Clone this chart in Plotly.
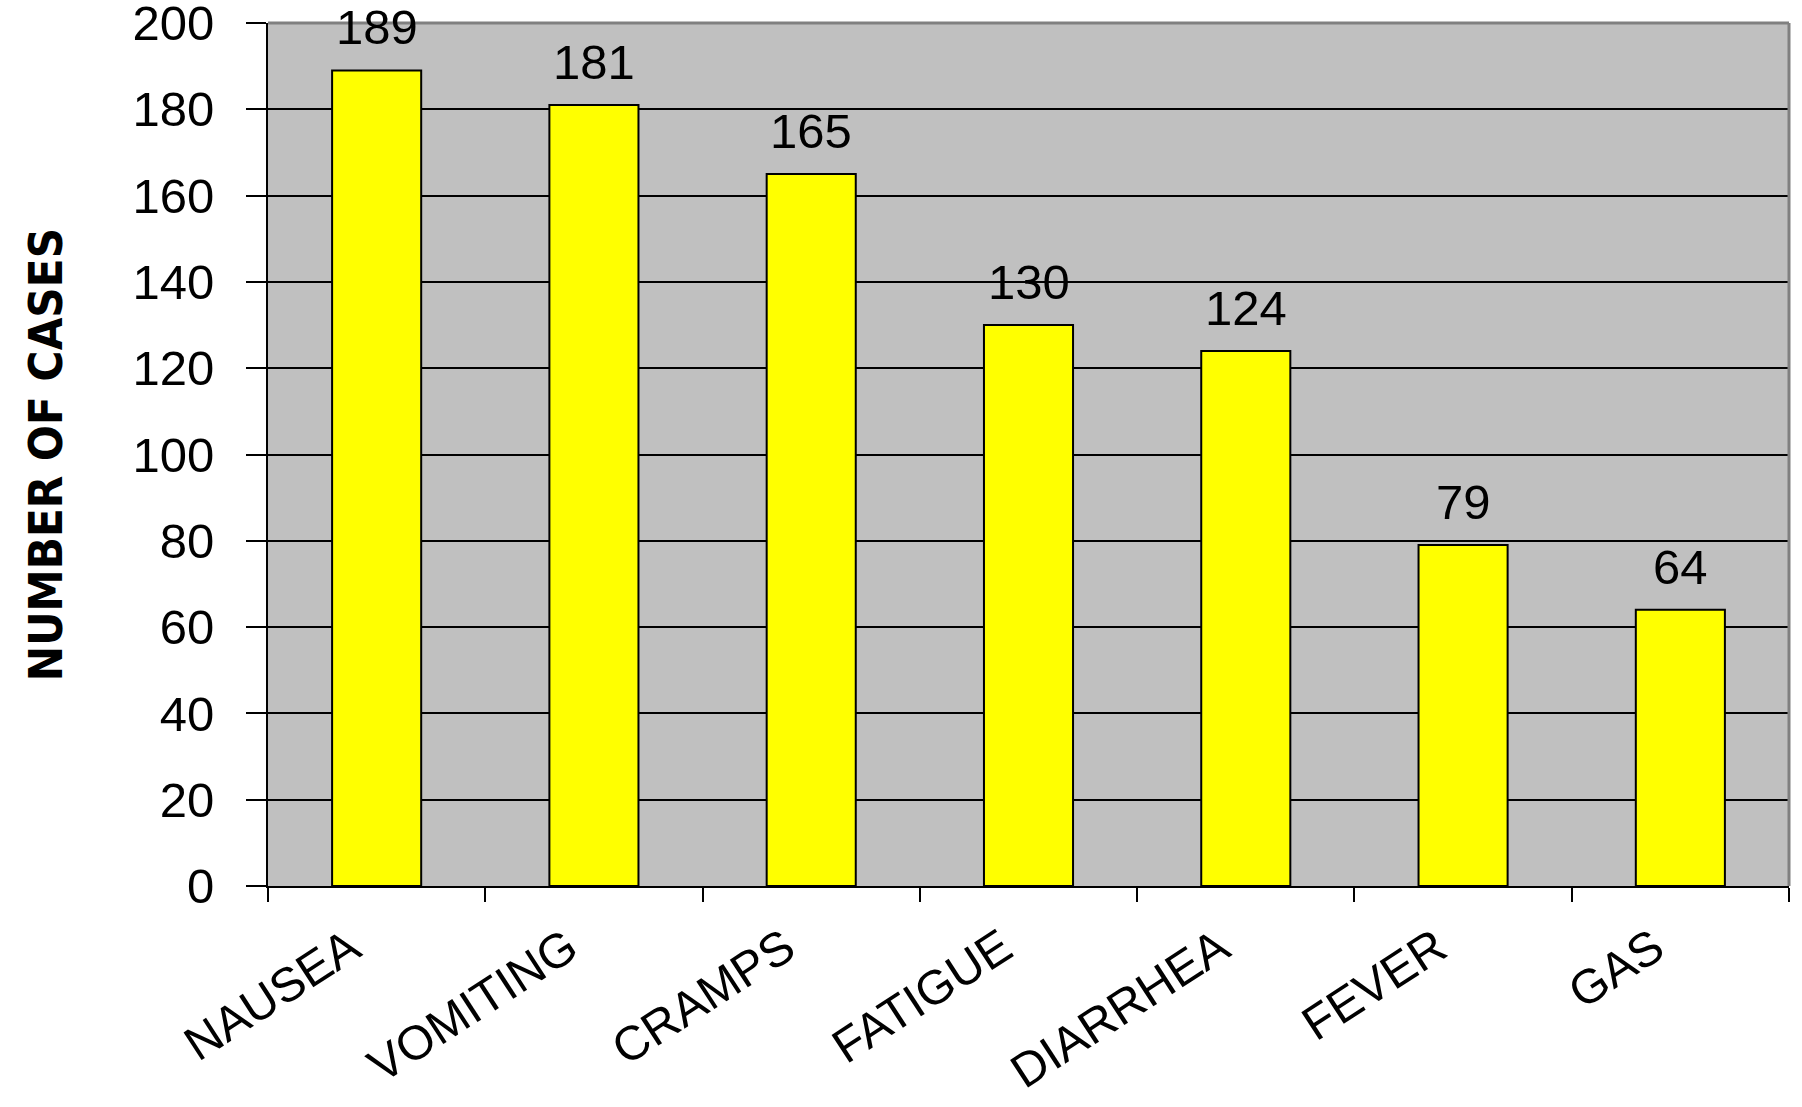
import plotly.graph_objects as go

categories = ["NAUSEA", "VOMITING", "CRAMPS", "FATIGUE", "DIARRHEA", "FEVER", "GAS"]
cases = [189, 181, 165, 130, 124, 79, 64]
y_ticks = [0, 20, 40, 60, 80, 100, 120, 140, 160, 180, 200]
y_title = "NUMBER OF CASES"

FONT = "Liberation Sans, Arial, sans-serif"
NARROW = "Liberation Sans Narrow, Arial Narrow, DejaVu Sans Condensed, sans-serif"

fig = go.Figure()
fig.add_trace(go.Bar(
    x=categories, y=cases, width=0.41,
    marker=dict(color="#FFFF00", line=dict(color="#000000", width=2)),
    hoverinfo="x+y",
))

for c, v in zip(categories, cases):
    fig.add_annotation(x=c, y=v, text=str(v), showarrow=False,
                       yanchor="bottom", yshift=14,
                       font=dict(family=FONT, size=49, color="#000000"))

fig.update_layout(
    width=1802, height=1107,
    margin=dict(l=268, r=13, t=23, b=221),
    paper_bgcolor="#FFFFFF", plot_bgcolor="#C0C0C0",
    showlegend=False,
    font=dict(family=FONT, color="#000000"),
)
fig.update_xaxes(
    automargin=False,
    showgrid=False, showline=True, linecolor="#000000", linewidth=2,
    ticks="outside", tickson="boundaries", ticklen=14, tickwidth=2, tickcolor="#000000",
    tickangle=-33, tickfont=dict(family=FONT, size=48, color="#000000"),
    ticklabelshift=-26, ticklabelstandoff=13,
    ticklabeloverflow="allow",
    range=[-0.5, 6.5], zeroline=False,
)
fig.update_yaxes(
    automargin=False,
    range=[0, 200], tickvals=y_ticks,
    showgrid=True, gridcolor="#000000", gridwidth=2,
    showline=True, linecolor="#000000", linewidth=2,
    ticks="outside", ticklen=20, tickwidth=2, tickcolor="#000000",
    ticklabelstandoff=22, ticklabeloverflow="allow",
    tickfont=dict(family=FONT, size=49, color="#000000"),
    zeroline=False,
    title=dict(text=y_title, standoff=55,
               font=dict(family=NARROW, size=47, color="#000000", weight="bold")),
)
# grey frame on top and right edges of the plot area
fig.add_shape(type="line", xref="paper", yref="paper", x0=0, x1=1, y0=1, y1=1,
              line=dict(color="#808080", width=3))
fig.add_shape(type="line", xref="paper", yref="paper", x0=1, x1=1, y0=0, y1=1,
              line=dict(color="#808080", width=3))

fig.write_html("out.html")
